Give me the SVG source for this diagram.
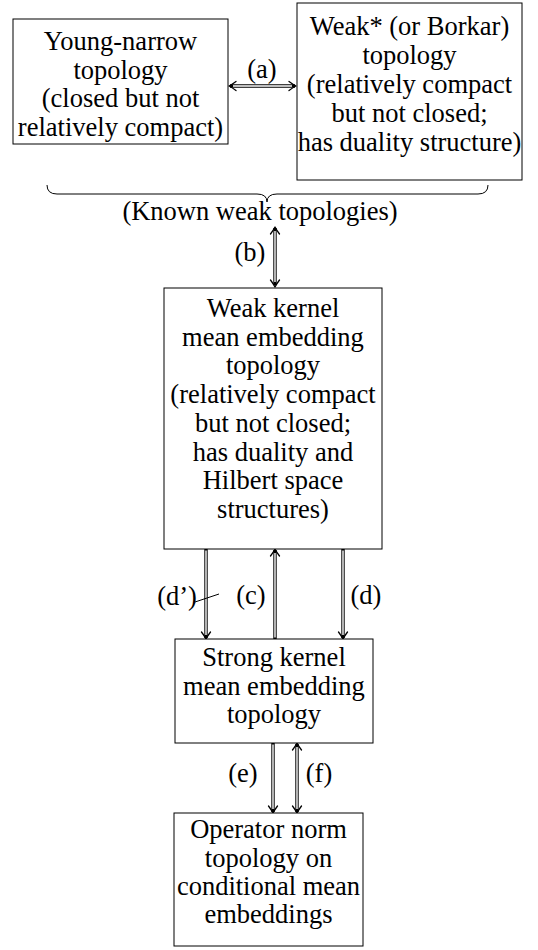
<svg xmlns="http://www.w3.org/2000/svg" xmlns:xlink="http://www.w3.org/1999/xlink" width="538" height="950" viewBox="0 0 538 950">
<style>
.box{fill:#fff;stroke:#000;stroke-width:1}
text{font-family:"Liberation Serif","Times New Roman",serif;font-size:26.5px;fill:#000;text-anchor:middle}
.o{fill:none;stroke:#000;stroke-width:3.4}
.i{fill:none;stroke:#fff;stroke-width:1.4}
.ah{fill:none;stroke:#000;stroke-width:1.3;stroke-linecap:round;stroke-linejoin:round}
.thin{fill:none;stroke:#000;stroke-width:1}
</style>
<defs>
<path id="ah" class="ah" d="M-4.5,-7 Q-1.5,-3 0,0 Q1.5,-3 4.5,-7"/>
</defs>
<rect width="538" height="950" fill="#fff"/>
<g id="connectors">
<!-- (a) -->
<path class="o" d="M230,86 H295"/><path class="i" d="M233,86 H292"/>
<use href="#ah" transform="translate(229,86) rotate(90)"/>
<use href="#ah" transform="translate(296,86) rotate(-90)"/>
<!-- brace -->
<path class="thin" d="M47,185 Q47,194 57,194 L257,194 Q267,194 267,202 Q267,194 277,194 L478,194 Q488,194 488,185"/>
<!-- (b) -->
<path class="o" d="M275,228 V285"/><path class="i" d="M275,231 V282"/>
<use href="#ah" transform="translate(275,227) rotate(180)"/>
<use href="#ah" transform="translate(275,287)"/>
<!-- (d') -->
<path class="o" d="M206,549 V638"/><path class="i" d="M206,550.5 V635"/>
<use href="#ah" transform="translate(206,639)"/>
<!-- (c) -->
<path class="o" d="M275,639 V550"/><path class="i" d="M275,637.5 V553"/>
<use href="#ah" transform="translate(275,549) rotate(180)"/>
<!-- (d) -->
<path class="o" d="M343,549 V638"/><path class="i" d="M343,550.5 V635"/>
<use href="#ah" transform="translate(343,639)"/>
<!-- (e) -->
<path class="o" d="M273,743 V812"/><path class="i" d="M273,744.5 V809"/>
<use href="#ah" transform="translate(273,813)"/>
<!-- (f) -->
<path class="o" d="M297,744 V812"/><path class="i" d="M297,747 V809"/>
<use href="#ah" transform="translate(297,743) rotate(180)"/>
<use href="#ah" transform="translate(297,813)"/>
<!-- d' pointer -->
<path class="thin" d="M195,602 L219,594"/>
</g>
<g id="labels">
<text x="262" y="78">(a)</text>
<text x="260" y="220">(Known weak topologies)</text>
<text x="250" y="261">(b)</text>
<text x="177" y="605">(d’)</text>
<text x="251" y="604">(c)</text>
<text x="366" y="604">(d)</text>
<text x="243" y="782">(e)</text>
<text x="319" y="782">(f)</text>
</g>
<g id="young">
<rect class="box" x="13" y="19" width="215" height="125"/>
<text x="120.5" y="50">Young-narrow</text>
<text x="120.5" y="78.7">topology</text>
<text x="120.5" y="107.4">(closed but not</text>
<text x="120.5" y="136">relatively compact)</text>
</g>
<g id="weakstar">
<rect class="box" x="297" y="3" width="225" height="177"/>
<text x="409.5" y="35">Weak* (or Borkar)</text>
<text x="409.5" y="64">topology</text>
<text x="409.5" y="93">(relatively compact</text>
<text x="409.5" y="122">but not closed;</text>
<text x="409.5" y="151">has duality structure)</text>
</g>
<g id="weakkme">
<rect class="box" x="164" y="288" width="218" height="261"/>
<text x="273" y="317">Weak kernel</text>
<text x="273" y="345.7">mean embedding</text>
<text x="273" y="374.4">topology</text>
<text x="273" y="403.1">(relatively compact</text>
<text x="273" y="431.8">but not closed;</text>
<text x="273" y="460.5">has duality and</text>
<text x="273" y="489.2">Hilbert space</text>
<text x="273" y="517.9">structures)</text>
</g>
<g id="strongkme">
<rect class="box" x="175" y="639" width="198" height="104"/>
<text x="274" y="666">Strong kernel</text>
<text x="274" y="695">mean embedding</text>
<text x="274" y="723">topology</text>
</g>
<g id="opnorm">
<rect class="box" x="174" y="813" width="189" height="133"/>
<text x="268.5" y="838">Operator norm</text>
<text x="268.5" y="867">topology on</text>
<text x="268.5" y="895">conditional mean</text>
<text x="268.5" y="923">embeddings</text>
</g>
</svg>
